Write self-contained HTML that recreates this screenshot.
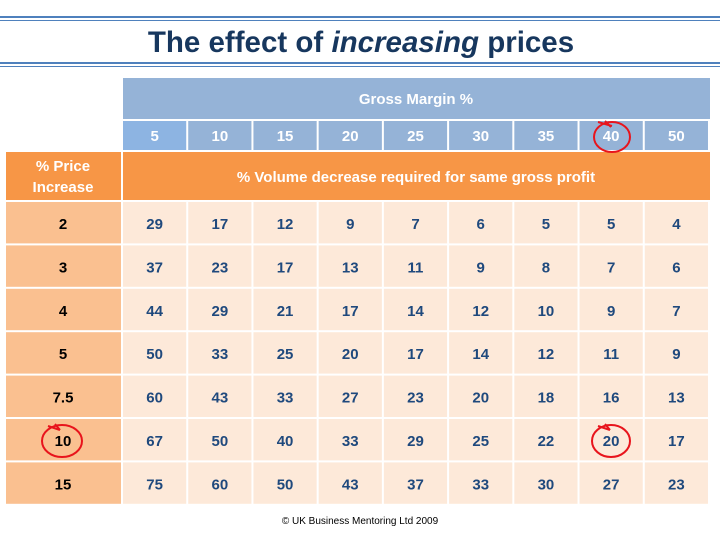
<!DOCTYPE html>
<html><head><style>
body{margin:0;background:#fff}
svg{display:block}
text{font-family:"Liberation Sans",sans-serif;font-weight:bold}
</style></head><body>
<svg width="720" height="540" viewBox="0 0 720 540" xmlns="http://www.w3.org/2000/svg">
<rect x="0" y="16" width="720" height="2" fill="#4f81bd"/>
<rect x="0" y="20" width="720" height="1" fill="#4f81bd"/>
<rect x="0" y="62" width="720" height="2" fill="#4f81bd"/>
<rect x="0" y="66" width="720" height="1" fill="#4f81bd"/>
<text x="361" y="52" text-anchor="middle" font-size="29.5" fill="#17375e">The effect of <tspan font-style="italic">increasing</tspan> prices</text>
<rect x="123" y="78" width="587" height="41" fill="#95b3d7"/>
<text x="416" y="104" text-anchor="middle" font-size="15" fill="#fff">Gross Margin %</text>
<g id="hdr"></g>
<rect x="6" y="152" width="115" height="48" fill="#f79646"/>
<text x="63" y="171" text-anchor="middle" font-size="15" fill="#fff">% Price</text>
<text x="63" y="192" text-anchor="middle" font-size="15" fill="#fff">Increase</text>
<rect x="123" y="152" width="587" height="48" fill="#f79646"/>
<text x="416" y="182" text-anchor="middle" font-size="15" fill="#fff">% Volume decrease required for same gross profit</text>
<g id="body"></g>
<text x="360" y="524" text-anchor="middle" font-size="10" style="font-weight:normal" fill="#000">© UK Business Mentoring Ltd 2009</text>
<g fill="none" stroke="#e8141c" stroke-width="2">
<ellipse cx="612" cy="137" rx="18" ry="15"/>
<path d="M598 122 L612 126 M605 121 L611 127"/>
<ellipse cx="62" cy="441" rx="20" ry="16"/>
<path d="M48 426 L60 430 M55 424 L60 430"/>
<ellipse cx="611" cy="441" rx="19" ry="16"/>
<path d="M598 426 L610 430 M605 424 L610 430"/>
</g>
</svg>
<script>
var ns="http://www.w3.org/2000/svg";
function el(p,t,a,txt){var e=document.createElementNS(ns,t);for(var k in a)e.setAttribute(k,a[k]);if(txt!=null)e.textContent=txt;p.appendChild(e);return e;}
var cols=[5,10,15,20,25,30,35,40,50];
var x0=123,w=65.22;
var h=document.getElementById('hdr');
cols.forEach(function(c,i){var x=x0+i*w;el(h,'rect',{x:x,y:121,width:w-2,height:29,fill:i==0?'#8db4e2':'#95b3d7'});
el(h,'text',{x:x+w/2-1,y:141,'text-anchor':'middle','font-size':15,fill:'#fff'},c);});
var rows=[["2",29,17,12,9,7,6,5,5,4],["3",37,23,17,13,11,9,8,7,6],["4",44,29,21,17,14,12,10,9,7],["5",50,33,25,20,17,14,12,11,9],["7.5",60,43,33,27,23,20,18,16,13],["10",67,50,40,33,29,25,22,20,17],["15",75,60,50,43,37,33,30,27,23]];
var b=document.getElementById('body');
rows.forEach(function(r,j){var y=202+j*43.4;
el(b,'rect',{x:6,y:y,width:115,height:41.4,fill:'#fac090'});
el(b,'text',{x:63,y:y+27,'text-anchor':'middle','font-size':15,fill:'#000'},r[0]);
for(var i=0;i<9;i++){var x=x0+i*w;el(b,'rect',{x:x,y:y,width:w-2,height:41.4,fill:'#fde9d9'});
el(b,'text',{x:x+w/2-1,y:y+27,'text-anchor':'middle','font-size':15,fill:'#1f497d'},r[i+1]);}
});
</script>
</body></html>
